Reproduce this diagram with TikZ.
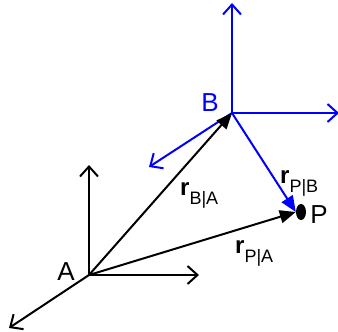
\documentclass[tikz,border=0pt]{standalone}
\usepackage{fontspec}
\setmainfont{Liberation Sans}
\usetikzlibrary{arrows.meta,shapes.geometric}
\tikzset{
  axis/.style={line width=2pt,-{Straight Barb[length=10pt,width=18pt,line width=2pt]}},
  vec/.style={line width=2pt,-{Triangle[length=16pt,width=13pt]}},
  lbl/.style={font=\fontsize{26}{28}\selectfont,inner sep=0pt},
  vlbl/.style={font=\fontsize{24}{26}\selectfont,inner sep=0pt,anchor=base west}
}
\newcommand{\rsub}[1]{\textbf{r}\raisebox{-9pt}{\fontsize{18}{20}\selectfont #1}}
\begin{document}
\begin{tikzpicture}[x=1pt,y=-1pt]
  \useasboundingbox (0,0) rectangle (338,332);
  % frame A
  \coordinate (A) at (89,275);
  \draw[axis] (A) -- (89,165);
  \draw[axis] (A) -- (199,275);
  \draw[axis] (A) -- (9,328);
  \node[lbl] (labA) at (66,272) {A};
  % frame B
  \coordinate (B) at (232,113);
  \draw[axis,blue] (B) -- (232,3);
  \draw[axis,blue] (B) -- (339,113);
  \draw[axis,blue] (B) -- (149,167);
  \node[lbl,text=blue] (labB) at (210,103) {B};
  % point P
  \node[ellipse,fill=black,minimum width=10pt,minimum height=16pt,inner sep=0pt] (P) at (301,212) {};
  \node[lbl] (labP) at (319,215) {P};
  % vectors
  \draw[vec] (A) -- (B);
  \draw[vec,blue] (B) -- (P.west);
  \draw[vec] (A) -- (P.west);
  \node[vlbl] (rBA) at (180,195) {\rsub{B|A}};
  \node[vlbl] (rPB) at (280,183) {\rsub{P|B}};
  \node[vlbl] (rPA) at (235,253) {\rsub{P|A}};
\end{tikzpicture}
\end{document}
